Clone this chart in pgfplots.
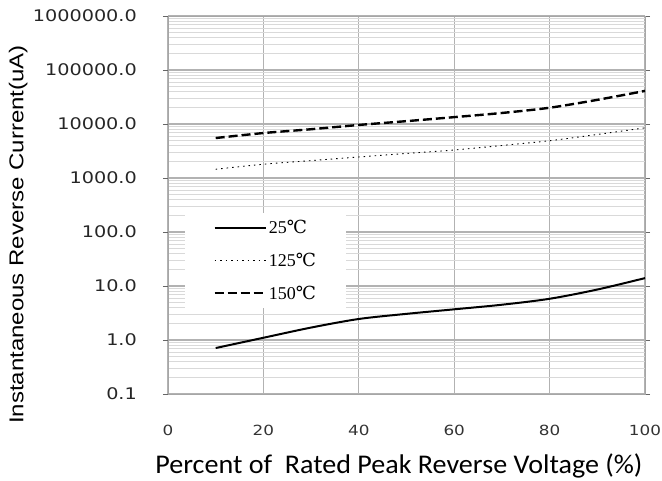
\documentclass[border=0pt]{standalone}
\usepackage{fontspec}
\setmainfont{Liberation Serif}
\newfontfamily\tickfont[FakeStretch=1.2]{DejaVu Sans}
\newfontfamily\labfont[FakeStretch=1.2]{Liberation Sans}
\newfontfamily\xlabfont[FakeStretch=1.04]{Carlito}
\newfontfamily\degfont{DejaVu Serif}
\usepackage{pgfplots}
\pgfplotsset{compat=1.18}
\begin{document}
\begin{tikzpicture}
\begin{semilogyaxis}[
    scale only axis,
    width=477bp, height=378bp,
    xmin=0, xmax=100,
    ymin=0.1, ymax=1000000,
    xtick={0,20,40,60,80,100},
    ytick={0.1,1,10,100,1000,10000,100000,1000000},
    yticklabels={0.1,1.0,10.0,100.0,1000.0,10000.0,100000.0,1000000.0},
    xticklabels={0,20,40,60,80,100},
    xmajorgrids=true, ymajorgrids=true, yminorgrids=true,
    major grid style={black!30, line width=1.2pt},
    minor grid style={black!15, line width=0.8pt},
    axis line style={black!35},
    tick style={black!60},
    tick align=outside,
    xtick style={draw=none},
    minor tick length=0pt,
    major tick length=5bp,
    yticklabel style={font=\tickfont\fontsize{16bp}{18bp}\selectfont, text=black!85, anchor=east, inner sep=0pt, xshift=-26bp},
    xticklabel style={font=\tickfont\fontsize{14bp}{16bp}\selectfont, text=black!80, anchor=north, inner sep=0pt, yshift=-26bp},
    ylabel={Instantaneous Reverse Current(uA)},
    ylabel style={font=\labfont\fontsize{20bp}{22bp}\selectfont, at={(axis description cs:-0.314,0.422)}, anchor=center},
    xlabel={Percent of \ Rated Peak Reverse Voltage (\%)},
    xlabel style={font=\xlabfont\fontsize{27bp}{29bp}\selectfont, at={(axis description cs:0.484,-0.209)}, anchor=base},
    legend cell align=left,
    legend image code/.code={\draw[#1] (0bp,0bp) -- (51bp,0bp);},
    legend style={at={(axis description cs:0.036,0.479)}, anchor=north west,
        draw=none, fill=white, inner xsep=28bp, inner ysep=5bp,
        row sep=14bp,
        font=\fontsize{18bp}{20bp}\selectfont},
]
\addplot[black, line width=2pt, smooth] coordinates {
    (10,0.71)(20,1.1)(30,1.7)(40,2.45)(50,3.05)(60,3.7)(70,4.5)(80,5.8)(90,8.6)(100,14)
};
\addlegendentry{25{\degfont ℃}}
\addplot[black, line width=0.9pt, dash pattern=on 1.5bp off 4bp, smooth] coordinates {
    (10,1450)(20,1800)(30,2100)(40,2450)(50,2850)(60,3300)(70,4000)(80,4900)(90,6400)(100,8500)
};
\addlegendentry{125{\degfont ℃}}
\addplot[black, line width=2.4pt, dash pattern=on 9bp off 4bp, smooth] coordinates {
    (10,5500)(20,6800)(30,8000)(40,9600)(50,11300)(60,13400)(70,16000)(80,20000)(90,28000)(100,41000)
};
\addlegendentry{150{\degfont ℃}}
\end{semilogyaxis}
\pgfresetboundingbox
\useasboundingbox (-168bp,-87bp) rectangle (494bp,394bp);
\end{tikzpicture}
\end{document}
